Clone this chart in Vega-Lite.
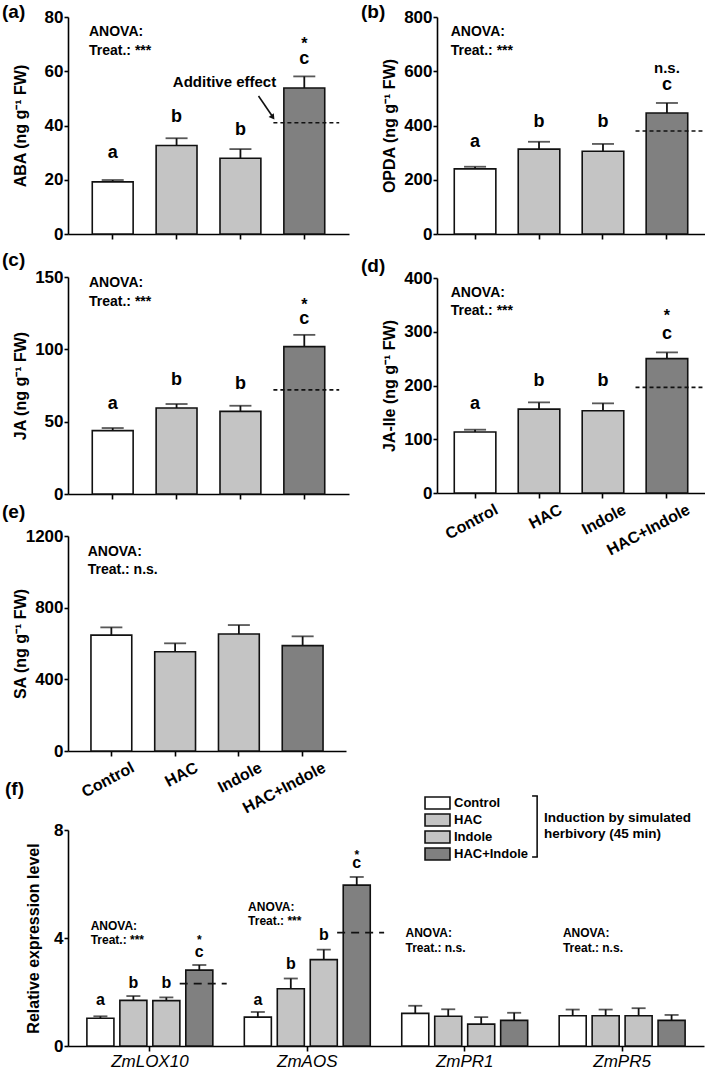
{
  "$schema": "https://vega.github.io/schema/vega-lite/v6.json",
  "background": "white",
  "padding": {"left": 2, "top": 3, "right": 0, "bottom": 0},
  "config": {
    "font": "Liberation Sans",
    "view": {"stroke": null},
    "axis": {"domainColor": "#000", "domainWidth": 1.6, "tickColor": "#000", "tickWidth": 1.6, "tickSize": 4, "labelColor": "#000", "labelFont": "Liberation Sans", "labelFontWeight": "bold", "labelFontSize": 17, "titleColor": "#000", "titleFont": "Liberation Sans", "titleFontWeight": "bold", "titleFontSize": 16, "grid": false, "labelPadding": 1, "titlePadding": 8},
    "axisX": {"tickSize": 5, "labelFontSize": 16},
    "axisY": {"titleX": -40, "format": "d"},
    "title": {"fontSize": 19, "fontWeight": "bold", "color": "#000", "anchor": "start", "frame": "bounds", "offset": -10, "dx": -10},
    "text": {"font": "Liberation Sans", "fontWeight": "bold", "color": "#000"},
    "bar": {"stroke": "#111", "strokeWidth": 1.6},
    "rule": {"color": "#111"},
    "tick": {"color": "#111"}
  },
  "resolve": {"scale": {"fill": "independent"}, "legend": {"fill": "independent"}},
  "spacing": -36,
  "vconcat": [
    {
      "resolve": {"scale": {"fill": "independent"}, "legend": {"fill": "independent"}},
      "spacing": 12,
      "hconcat": [
        {
          "resolve": {"scale": {"fill": "independent"}, "legend": {"fill": "independent"}},
          "spacing": 1,
          "vconcat": [
            {
              "resolve": {"scale": {"fill": "independent"}, "legend": {"fill": "independent"}},
              "spacing": 9,
              "vconcat": [
                {
                  "width": 281, "height": 217,
                  "title": {"text": "(a)", "offset": -14, "dx": -10},
                  "encoding": {"x": {"field": "t", "type": "nominal", "scale": {"domain": ["Control", "HAC", "Indole", "HAC+Indole"], "paddingInner": 0.36, "paddingOuter": 0.38}, "axis": {"labels": false, "title": null}}},
                  "layer": [
                    {
                      "data": {"values": [{"t": "Control", "m": 19.2, "hi": 19.9}, {"t": "HAC", "m": 32.6, "hi": 35.3}, {"t": "Indole", "m": 27.9, "hi": 31.3}, {"t": "HAC+Indole", "m": 53.8, "hi": 58.1}]},
                      "layer": [
                        {"mark": {"type": "rule", "strokeWidth": 1.8}, "encoding": {"y": {"field": "m", "type": "quantitative", "scale": {"domain": [0, 80], "nice": false}}, "y2": {"field": "hi"}}},
                        {"mark": {"type": "tick", "size": 22, "thickness": 1.8}, "encoding": {"y": {"field": "hi", "type": "quantitative", "scale": {"domain": [0, 80], "nice": false}}}},
                        {"mark": {"type": "bar"}, "encoding": {"y": {"field": "m", "type": "quantitative", "scale": {"domain": [0, 80], "nice": false}, "axis": {"values": [0, 20, 40, 60, 80], "title": "ABA (ng g⁻¹ FW)"}}, "fill": {"field": "t", "type": "nominal", "scale": {"domain": ["Control", "HAC", "Indole", "HAC+Indole"], "range": ["#ffffff", "#c4c4c4", "#c4c4c4", "#808080"]}, "legend": null}}}
                      ]
                    },
                    {"data": {"values": [{"t": "Control", "v": 29.9, "s": "a"}, {"t": "HAC", "v": 43.1, "s": "b"}, {"t": "Indole", "v": 38.5, "s": "b"}, {"t": "HAC+Indole", "v": 64.5, "s": "c"}]}, "mark": {"type": "text", "fontSize": 18}, "encoding": {"y": {"field": "v", "type": "quantitative", "scale": {"domain": [0, 80], "nice": false}}, "text": {"field": "s"}}},
                    {"data": {"values": [{"t": "HAC+Indole", "v": 70.2, "s": "*"}]}, "mark": {"type": "text", "fontSize": 16}, "encoding": {"y": {"field": "v", "type": "quantitative", "scale": {"domain": [0, 80], "nice": false}}, "text": {"field": "s"}}},
                    {"data": {"values": [{"t": "Control", "v": 74.5, "s": "ANOVA:"}, {"t": "Control", "v": 67.5, "s": "Treat.: ***"}]}, "mark": {"type": "text", "fontSize": 14, "align": "left"}, "encoding": {"x": {"field": "t", "type": "nominal", "bandPosition": -0.08}, "y": {"field": "v", "type": "quantitative", "scale": {"domain": [0, 80], "nice": false}}, "text": {"field": "s"}}},
                    {"data": {"values": [{"t": "Indole", "v": 56, "s": "Additive effect"}]}, "mark": {"type": "text", "fontSize": 15, "align": "center"}, "encoding": {"x": {"field": "t", "type": "nominal", "bandPosition": 0.11}, "y": {"field": "v", "type": "quantitative", "scale": {"domain": [0, 80], "nice": false}}, "text": {"field": "s"}}},
                    {"data": {"values": [{"t": "HAC+Indole", "v": 50.9, "v2": 43.6}]}, "mark": {"type": "rule", "strokeWidth": 1.6}, "encoding": {"x": {"field": "t", "type": "nominal", "bandPosition": -0.62}, "x2": {"field": "t", "bandPosition": -0.29}, "y": {"field": "v", "type": "quantitative", "scale": {"domain": [0, 80], "nice": false}}, "y2": {"field": "v2"}}},
                    {"data": {"values": [{"t": "HAC+Indole", "v": 43.0}]}, "mark": {"type": "point", "shape": "triangle-right", "filled": true, "color": "#111", "size": 40, "angle": 54, "opacity": 1}, "encoding": {"x": {"field": "t", "type": "nominal", "bandPosition": -0.27}, "y": {"field": "v", "type": "quantitative", "scale": {"domain": [0, 80], "nice": false}}}},
                    {"data": {"values": [{"t": "HAC+Indole", "v": 41}]}, "mark": {"type": "rule", "strokeDash": [4, 3], "strokeWidth": 1.6}, "encoding": {"x": {"field": "t", "type": "nominal", "bandPosition": -0.256}, "x2": {"field": "t", "bandPosition": 1.354}, "y": {"field": "v", "type": "quantitative", "scale": {"domain": [0, 80], "nice": false}}}}
                  ]
                },
                {
                  "width": 281, "height": 217,
                  "title": {"text": "(c)", "offset": -2, "dx": -10},
                  "encoding": {"x": {"field": "t", "type": "nominal", "scale": {"domain": ["Control", "HAC", "Indole", "HAC+Indole"], "paddingInner": 0.36, "paddingOuter": 0.38}, "axis": {"labels": false, "title": null}}},
                  "layer": [
                    {
                      "data": {"values": [{"t": "Control", "m": 43.8, "hi": 45.6}, {"t": "HAC", "m": 59.4, "hi": 62.2}, {"t": "Indole", "m": 57.1, "hi": 61.0}, {"t": "HAC+Indole", "m": 101.9, "hi": 110}]},
                      "layer": [
                        {"mark": {"type": "rule", "strokeWidth": 1.8}, "encoding": {"y": {"field": "m", "type": "quantitative", "scale": {"domain": [0, 150], "nice": false}}, "y2": {"field": "hi"}}},
                        {"mark": {"type": "tick", "size": 22, "thickness": 1.8}, "encoding": {"y": {"field": "hi", "type": "quantitative", "scale": {"domain": [0, 150], "nice": false}}}},
                        {"mark": {"type": "bar"}, "encoding": {"y": {"field": "m", "type": "quantitative", "scale": {"domain": [0, 150], "nice": false}, "axis": {"values": [0, 50, 100, 150], "title": "JA (ng g⁻¹ FW)"}}, "fill": {"field": "t", "type": "nominal", "scale": {"domain": ["Control", "HAC", "Indole", "HAC+Indole"], "range": ["#ffffff", "#c4c4c4", "#c4c4c4", "#808080"]}, "legend": null}}}
                      ]
                    },
                    {"data": {"values": [{"t": "Control", "v": 62.4, "s": "a"}, {"t": "HAC", "v": 78.5, "s": "b"}, {"t": "Indole", "v": 76.2, "s": "b"}, {"t": "HAC+Indole", "v": 121, "s": "c"}]}, "mark": {"type": "text", "fontSize": 18}, "encoding": {"y": {"field": "v", "type": "quantitative", "scale": {"domain": [0, 150], "nice": false}}, "text": {"field": "s"}}},
                    {"data": {"values": [{"t": "HAC+Indole", "v": 130.9, "s": "*"}]}, "mark": {"type": "text", "fontSize": 16}, "encoding": {"y": {"field": "v", "type": "quantitative", "scale": {"domain": [0, 150], "nice": false}}, "text": {"field": "s"}}},
                    {"data": {"values": [{"t": "Control", "v": 145.6, "s": "ANOVA:"}, {"t": "Control", "v": 133, "s": "Treat.: ***"}]}, "mark": {"type": "text", "fontSize": 14, "align": "left"}, "encoding": {"x": {"field": "t", "type": "nominal", "bandPosition": -0.08}, "y": {"field": "v", "type": "quantitative", "scale": {"domain": [0, 150], "nice": false}}, "text": {"field": "s"}}},
                    {"data": {"values": [{"t": "HAC+Indole", "v": 72}]}, "mark": {"type": "rule", "strokeDash": [4, 3], "strokeWidth": 1.6}, "encoding": {"x": {"field": "t", "type": "nominal", "bandPosition": -0.256}, "x2": {"field": "t", "bandPosition": 1.354}, "y": {"field": "v", "type": "quantitative", "scale": {"domain": [0, 150], "nice": false}}}}
                  ]
                }
              ]
            },
            {
              "width": 278, "height": 215,
              "title": {"text": "(e)", "offset": 5, "dx": -10},
              "encoding": {"x": {"field": "t", "type": "nominal", "scale": {"domain": ["Control", "HAC", "Indole", "HAC+Indole"], "paddingInner": 0.36, "paddingOuter": 0.36}, "axis": {"title": null, "labelAngle": -28, "labelAlign": "right", "labelBaseline": "top", "labelOffset": 18, "labelPadding": 3}}},
              "layer": [
                {
                  "data": {"values": [{"t": "Control", "m": 647, "hi": 690}, {"t": "HAC", "m": 554, "hi": 601}, {"t": "Indole", "m": 653, "hi": 703}, {"t": "HAC+Indole", "m": 588, "hi": 640}]},
                  "layer": [
                    {"mark": {"type": "rule", "strokeWidth": 1.8}, "encoding": {"y": {"field": "m", "type": "quantitative", "scale": {"domain": [0, 1200], "nice": false}}, "y2": {"field": "hi"}}},
                    {"mark": {"type": "tick", "size": 22, "thickness": 1.8}, "encoding": {"y": {"field": "hi", "type": "quantitative", "scale": {"domain": [0, 1200], "nice": false}}}},
                    {"mark": {"type": "bar"}, "encoding": {"y": {"field": "m", "type": "quantitative", "scale": {"domain": [0, 1200], "nice": false}, "axis": {"values": [0, 400, 800, 1200], "title": "SA (ng g⁻¹ FW)"}}, "fill": {"field": "t", "type": "nominal", "scale": {"domain": ["Control", "HAC", "Indole", "HAC+Indole"], "range": ["#ffffff", "#c4c4c4", "#c4c4c4", "#808080"]}, "legend": null}}}
                  ]
                },
                {"data": {"values": [{"t": "Control", "v": 1112, "s": "ANOVA:"}, {"t": "Control", "v": 1010, "s": "Treat.: n.s."}]}, "mark": {"type": "text", "fontSize": 14, "align": "left"}, "encoding": {"x": {"field": "t", "type": "nominal", "bandPosition": -0.08}, "y": {"field": "v", "type": "quantitative", "scale": {"domain": [0, 1200], "nice": false}}, "text": {"field": "s"}}}
              ]
            }
          ]
        },
        {
          "resolve": {"scale": {"fill": "independent"}, "legend": {"fill": "independent"}},
          "spacing": 15,
          "vconcat": [
            {
              "width": 268, "height": 217,
              "title": {"text": "(b)", "offset": -14, "dx": -20},
              "encoding": {"x": {"field": "t", "type": "nominal", "scale": {"domain": ["Control", "HAC", "Indole", "HAC+Indole"], "paddingInner": 0.35, "paddingOuter": 0.27}, "axis": {"labels": false, "title": null}}},
              "layer": [
                {
                  "data": {"values": [{"t": "Control", "m": 240, "hi": 248}, {"t": "HAC", "m": 313, "hi": 340}, {"t": "Indole", "m": 305, "hi": 332}, {"t": "HAC+Indole", "m": 446, "hi": 483}]},
                  "layer": [
                    {"mark": {"type": "rule", "strokeWidth": 1.8}, "encoding": {"y": {"field": "m", "type": "quantitative", "scale": {"domain": [0, 800], "nice": false}}, "y2": {"field": "hi"}}},
                    {"mark": {"type": "tick", "size": 22, "thickness": 1.8}, "encoding": {"y": {"field": "hi", "type": "quantitative", "scale": {"domain": [0, 800], "nice": false}}}},
                    {"mark": {"type": "bar"}, "encoding": {"y": {"field": "m", "type": "quantitative", "scale": {"domain": [0, 800], "nice": false}, "axis": {"values": [0, 200, 400, 600, 800], "title": "OPDA (ng g⁻¹ FW)"}}, "fill": {"field": "t", "type": "nominal", "scale": {"domain": ["Control", "HAC", "Indole", "HAC+Indole"], "range": ["#ffffff", "#c4c4c4", "#c4c4c4", "#808080"]}, "legend": null}}}
                  ]
                },
                {"data": {"values": [{"t": "Control", "v": 338, "s": "a"}, {"t": "HAC", "v": 414, "s": "b"}, {"t": "Indole", "v": 412, "s": "b"}, {"t": "HAC+Indole", "v": 549, "s": "c"}]}, "mark": {"type": "text", "fontSize": 18}, "encoding": {"y": {"field": "v", "type": "quantitative", "scale": {"domain": [0, 800], "nice": false}}, "text": {"field": "s"}}},
                {"data": {"values": [{"t": "HAC+Indole", "v": 612, "s": "n.s."}]}, "mark": {"type": "text", "fontSize": 15}, "encoding": {"y": {"field": "v", "type": "quantitative", "scale": {"domain": [0, 800], "nice": false}}, "text": {"field": "s"}}},
                {"data": {"values": [{"t": "Control", "v": 744, "s": "ANOVA:"}, {"t": "Control", "v": 675, "s": "Treat.: ***"}]}, "mark": {"type": "text", "fontSize": 14, "align": "left"}, "encoding": {"x": {"field": "t", "type": "nominal", "bandPosition": -0.085}, "y": {"field": "v", "type": "quantitative", "scale": {"domain": [0, 800], "nice": false}}, "text": {"field": "s"}}},
                {"data": {"values": [{"t": "HAC+Indole", "v": 380}]}, "mark": {"type": "rule", "strokeDash": [4, 3], "strokeWidth": 1.6}, "encoding": {"x": {"field": "t", "type": "nominal", "bandPosition": -0.256}, "x2": {"field": "t", "bandPosition": 1.354}, "y": {"field": "v", "type": "quantitative", "scale": {"domain": [0, 800], "nice": false}}}}
              ]
            },
            {
              "width": 268, "height": 215,
              "title": {"text": "(d)", "offset": -7, "dx": -20},
              "encoding": {"x": {"field": "t", "type": "nominal", "scale": {"domain": ["Control", "HAC", "Indole", "HAC+Indole"], "paddingInner": 0.35, "paddingOuter": 0.27}, "axis": {"title": null, "labelAngle": -28, "labelAlign": "right", "labelBaseline": "top", "labelOffset": 18, "labelPadding": 3}}},
              "layer": [
                {
                  "data": {"values": [{"t": "Control", "m": 113.4, "hi": 117.8}, {"t": "HAC", "m": 156, "hi": 168.6}, {"t": "Indole", "m": 153, "hi": 166.8}, {"t": "HAC+Indole", "m": 250, "hi": 261.6}]},
                  "layer": [
                    {"mark": {"type": "rule", "strokeWidth": 1.8}, "encoding": {"y": {"field": "m", "type": "quantitative", "scale": {"domain": [0, 400], "nice": false}}, "y2": {"field": "hi"}}},
                    {"mark": {"type": "tick", "size": 22, "thickness": 1.8}, "encoding": {"y": {"field": "hi", "type": "quantitative", "scale": {"domain": [0, 400], "nice": false}}}},
                    {"mark": {"type": "bar"}, "encoding": {"y": {"field": "m", "type": "quantitative", "scale": {"domain": [0, 400], "nice": false}, "axis": {"values": [0, 100, 200, 300, 400], "title": "JA-Ile (ng g⁻¹ FW)"}}, "fill": {"field": "t", "type": "nominal", "scale": {"domain": ["Control", "HAC", "Indole", "HAC+Indole"], "range": ["#ffffff", "#c4c4c4", "#c4c4c4", "#808080"]}, "legend": null}}}
                  ]
                },
                {"data": {"values": [{"t": "Control", "v": 166, "s": "a"}, {"t": "HAC", "v": 207.6, "s": "b"}, {"t": "Indole", "v": 207.6, "s": "b"}, {"t": "HAC+Indole", "v": 296, "s": "c"}]}, "mark": {"type": "text", "fontSize": 18}, "encoding": {"y": {"field": "v", "type": "quantitative", "scale": {"domain": [0, 400], "nice": false}}, "text": {"field": "s"}}},
                {"data": {"values": [{"t": "HAC+Indole", "v": 330, "s": "*"}]}, "mark": {"type": "text", "fontSize": 16}, "encoding": {"y": {"field": "v", "type": "quantitative", "scale": {"domain": [0, 400], "nice": false}}, "text": {"field": "s"}}},
                {"data": {"values": [{"t": "Control", "v": 372, "s": "ANOVA:"}, {"t": "Control", "v": 338, "s": "Treat.: ***"}]}, "mark": {"type": "text", "fontSize": 14, "align": "left"}, "encoding": {"x": {"field": "t", "type": "nominal", "bandPosition": -0.085}, "y": {"field": "v", "type": "quantitative", "scale": {"domain": [0, 400], "nice": false}}, "text": {"field": "s"}}},
                {"data": {"values": [{"t": "HAC+Indole", "v": 196.5}]}, "mark": {"type": "rule", "strokeDash": [4, 3], "strokeWidth": 1.6}, "encoding": {"x": {"field": "t", "type": "nominal", "bandPosition": -0.256}, "x2": {"field": "t", "bandPosition": 1.354}, "y": {"field": "v", "type": "quantitative", "scale": {"domain": [0, 400], "nice": false}}}}
              ]
            }
          ]
        }
      ]
    },
    {
      "width": 636, "height": 216,
      "title": {"text": "(f)", "offset": -4, "dx": -20},
      "layer": [
        {
          "data": {"values": [
            {"g": "ZmLOX10", "t": "Control", "m": 1.03, "hi": 1.1}, {"g": "ZmLOX10", "t": "HAC", "m": 1.69, "hi": 1.85}, {"g": "ZmLOX10", "t": "Indole", "m": 1.68, "hi": 1.8}, {"g": "ZmLOX10", "t": "HAC+Indole", "m": 2.81, "hi": 3.0},
            {"g": "ZmAOS", "t": "Control", "m": 1.07, "hi": 1.26}, {"g": "ZmAOS", "t": "HAC", "m": 2.12, "hi": 2.5}, {"g": "ZmAOS", "t": "Indole", "m": 3.2, "hi": 3.57}, {"g": "ZmAOS", "t": "HAC+Indole", "m": 5.96, "hi": 6.26},
            {"g": "ZmPR1", "t": "Control", "m": 1.21, "hi": 1.49}, {"g": "ZmPR1", "t": "HAC", "m": 1.1, "hi": 1.36}, {"g": "ZmPR1", "t": "Indole", "m": 0.81, "hi": 1.07}, {"g": "ZmPR1", "t": "HAC+Indole", "m": 0.95, "hi": 1.23},
            {"g": "ZmPR5", "t": "Control", "m": 1.12, "hi": 1.35}, {"g": "ZmPR5", "t": "HAC", "m": 1.12, "hi": 1.35}, {"g": "ZmPR5", "t": "Indole", "m": 1.12, "hi": 1.4}, {"g": "ZmPR5", "t": "HAC+Indole", "m": 0.95, "hi": 1.15}
          ]},
          "encoding": {
            "x": {"field": "g", "type": "nominal", "scale": {"domain": ["ZmLOX10", "ZmAOS", "ZmPR1", "ZmPR5"], "paddingInner": 0.2, "paddingOuter": 0.12}, "axis": {"title": null, "labelAngle": 0, "labelAlign": "center", "labelBaseline": "top", "labelFontStyle": "italic", "labelFontWeight": "normal", "labelFontSize": 17, "labelPadding": 2}},
            "xOffset": {"field": "t", "type": "nominal", "scale": {"domain": ["Control", "HAC", "Indole", "HAC+Indole"], "paddingInner": 0.18, "paddingOuter": 0}}
          },
          "layer": [
            {"mark": {"type": "rule", "strokeWidth": 1.8}, "encoding": {"y": {"field": "m", "type": "quantitative", "scale": {"domain": [0, 8], "nice": false}}, "y2": {"field": "hi"}}},
            {"mark": {"type": "tick", "size": 14, "thickness": 1.8}, "encoding": {"y": {"field": "hi", "type": "quantitative", "scale": {"domain": [0, 8], "nice": false}}}},
            {"mark": {"type": "bar"}, "encoding": {"y": {"field": "m", "type": "quantitative", "scale": {"domain": [0, 8], "nice": false}, "axis": {"values": [0, 4, 8], "title": "Relative expression level", "titleX": -27}}, "fill": {"field": "t", "type": "nominal", "scale": {"domain": ["Control", "HAC", "Indole", "HAC+Indole"], "range": ["#ffffff", "#c4c4c4", "#c4c4c4", "#808080"]}, "legend": {"orient": "none", "legendX": 362.5, "legendY": -34, "title": null, "padding": 0, "symbolType": "M-2.08,-1H2.08V1H-2.08Z", "symbolSize": 144, "symbolStrokeColor": "#111", "symbolStrokeWidth": 1.5, "labelFont": "Liberation Sans", "labelFontSize": 13, "labelFontWeight": "bold", "labelColor": "#000", "labelOffset": 9.5, "rowPadding": -3.5}}}}
          ]
        },
        {
          "data": {"values": [
            {"g": "ZmLOX10", "t": "Control", "v": 1.7, "s": "a"}, {"g": "ZmLOX10", "t": "HAC", "v": 2.33, "s": "b"}, {"g": "ZmLOX10", "t": "Indole", "v": 2.33, "s": "b"}, {"g": "ZmLOX10", "t": "HAC+Indole", "v": 3.48, "s": "c"},
            {"g": "ZmAOS", "t": "Control", "v": 1.7, "s": "a"}, {"g": "ZmAOS", "t": "HAC", "v": 3.04, "s": "b"}, {"g": "ZmAOS", "t": "Indole", "v": 4.11, "s": "b"}, {"g": "ZmAOS", "t": "HAC+Indole", "v": 6.78, "s": "c"}
          ]},
          "mark": {"type": "text", "fontSize": 16},
          "encoding": {
            "x": {"field": "g", "type": "nominal"},
            "xOffset": {"field": "t", "type": "nominal"},
            "y": {"field": "v", "type": "quantitative", "scale": {"domain": [0, 8], "nice": false}},
            "text": {"field": "s"}
          }
        },
        {
          "data": {"values": [{"g": "ZmLOX10", "t": "HAC+Indole", "v": 3.93, "s": "*"}, {"g": "ZmAOS", "t": "HAC+Indole", "v": 7.07, "s": "*"}]},
          "mark": {"type": "text", "fontSize": 12},
          "encoding": {
            "x": {"field": "g", "type": "nominal"},
            "xOffset": {"field": "t", "type": "nominal"},
            "y": {"field": "v", "type": "quantitative", "scale": {"domain": [0, 8], "nice": false}},
            "text": {"field": "s"}
          }
        },
        {
          "data": {"values": [
            {"g": "ZmLOX10", "v": 4.44, "s": "ANOVA:"}, {"g": "ZmLOX10", "v": 3.93, "s": "Treat.: ***"},
            {"g": "ZmAOS", "v": 5.15, "s": "ANOVA:"}, {"g": "ZmAOS", "v": 4.63, "s": "Treat.: ***"},
            {"g": "ZmPR1", "v": 4.19, "s": "ANOVA:"}, {"g": "ZmPR1", "v": 3.63, "s": "Treat.: n.s."},
            {"g": "ZmPR5", "v": 4.19, "s": "ANOVA:"}, {"g": "ZmPR5", "v": 3.63, "s": "Treat.: n.s."}
          ]},
          "mark": {"type": "text", "fontSize": 12, "align": "left"},
          "encoding": {
            "x": {"field": "g", "type": "nominal", "bandPosition": 0.03},
            "y": {"field": "v", "type": "quantitative", "scale": {"domain": [0, 8], "nice": false}},
            "text": {"field": "s"}
          }
        },
        {
          "data": {"values": [{"g": "ZmLOX10", "v": 2.31}, {"g": "ZmAOS", "v": 4.2}]},
          "mark": {"type": "rule", "strokeDash": [8, 6], "strokeWidth": 1.6},
          "encoding": {
            "x": {"field": "g", "type": "nominal", "bandPosition": 0.737},
            "x2": {"field": "g", "bandPosition": 1.11},
            "y": {"field": "v", "type": "quantitative", "scale": {"domain": [0, 8], "nice": false}}
          }
        },
        {
          "data": {"values": [{"g": "ZmPR1", "v": 7.0, "v2": 9.26}]},
          "mark": {"type": "rule", "strokeWidth": 1.6},
          "encoding": {
            "x": {"field": "g", "type": "nominal", "bandPosition": 1.075},
            "y": {"field": "v", "type": "quantitative", "scale": {"domain": [0, 8], "nice": false}},
            "y2": {"field": "v2"}
          }
        },
        {
          "data": {"values": [{"g": "ZmPR1", "v": 7.0}, {"g": "ZmPR1", "v": 9.26}]},
          "mark": {"type": "rule", "strokeWidth": 1.6},
          "encoding": {
            "x": {"field": "g", "type": "nominal", "bandPosition": 1.035},
            "x2": {"field": "g", "bandPosition": 1.081},
            "y": {"field": "v", "type": "quantitative", "scale": {"domain": [0, 8], "nice": false}}
          }
        },
        {
          "data": {"values": [{"g": "ZmPR1", "v": 8.44, "s": "Induction by simulated"}, {"g": "ZmPR1", "v": 7.85, "s": "herbivory (45 min)"}]},
          "mark": {"type": "text", "fontSize": 13.5, "align": "left"},
          "encoding": {
            "x": {"field": "g", "type": "nominal", "bandPosition": 1.13},
            "y": {"field": "v", "type": "quantitative", "scale": {"domain": [0, 8], "nice": false}},
            "text": {"field": "s"}
          }
        }
      ]
    }
  ]
}
